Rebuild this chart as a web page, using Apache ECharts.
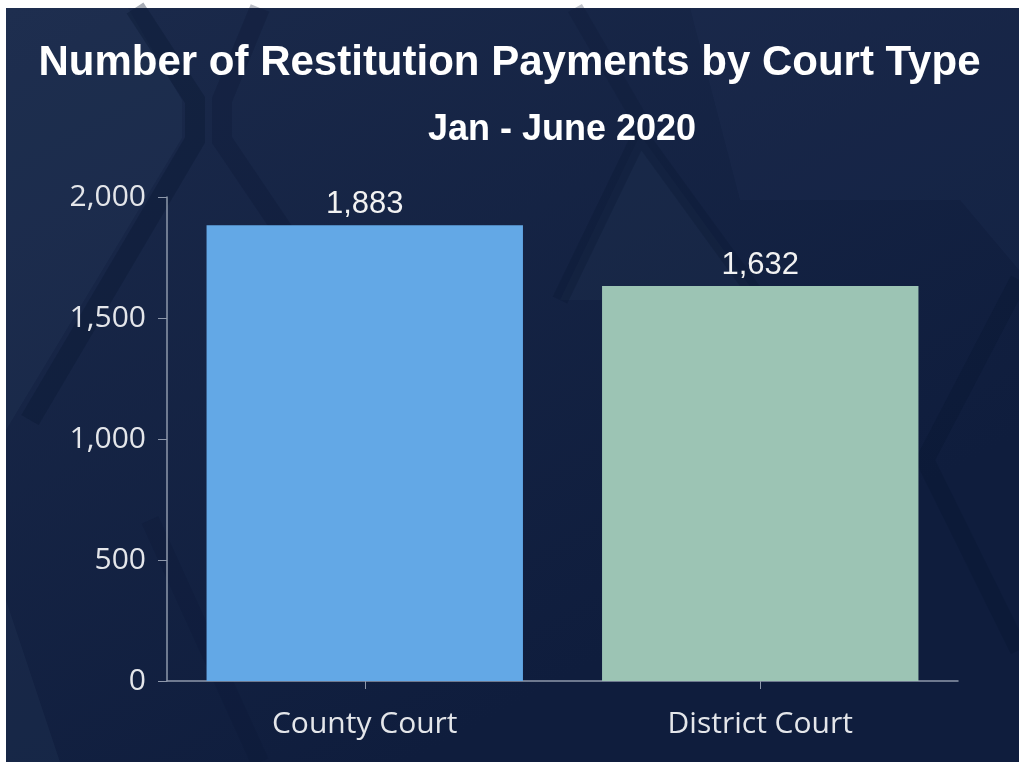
<!DOCTYPE html>
<html>
<head>
<meta charset="utf-8">
<script src="https://cdn.jsdelivr.net/npm/echarts@6/dist/echarts.min.js"></script>
<style>
  html, body { margin: 0; padding: 0; background: #fff; }
  #main { width: 1019px; height: 762px; }
</style>
</head>
<body>
<div id="main"></div>
<script>
// data
var courts = ['County Court', 'District Court'];
var payments = [1883, 1632];
var barColors = ['#63a8e6', '#9cc4b4'];
var yTicks = [0, 500, 1000, 1500, 2000];

var chart = echarts.init(document.getElementById('main'));

// background decoration (diamond lattice look)
var bg = [
  { type: 'rect', shape: { x: 6, y: 8, width: 1013, height: 754 },
    style: { fill: new echarts.graphic.LinearGradient(0, 0, 0.4, 1, [
      { offset: 0, color: '#1b2a4b' }, { offset: 1, color: '#0f1d3d' }]) } },
  { type: 'polygon', shape: { points: [[6, 8], [128, 8], [182, 100], [182, 138], [6, 430]] },
    style: { fill: 'rgba(40,58,92,0.25)' } },
  { type: 'polygon', shape: { points: [[6, 600], [60, 762], [6, 762]] },
    style: { fill: 'rgba(40,58,92,0.25)' } },
  { type: 'polygon', shape: { points: [[640, 135], [760, 300], [560, 300]] },
    style: { fill: 'rgba(40,58,92,0.2)' } },
  { type: 'polygon', shape: { points: [[690, 8], [1019, 8], [1019, 270], [960, 200], [740, 200]] },
    style: { fill: 'rgba(40,58,92,0.18)' } },
  { type: 'polyline', shape: { points: [[135, 8], [195, 100], [195, 140], [30, 420]] },
    style: { stroke: 'rgba(10,22,50,0.35)', lineWidth: 20, fill: null } },
  { type: 'polyline', shape: { points: [[260, 8], [222, 100], [222, 140], [330, 300]] },
    style: { stroke: 'rgba(10,22,50,0.28)', lineWidth: 20, fill: null } },
  { type: 'polyline', shape: { points: [[560, 300], [640, 135], [760, 300]] },
    style: { stroke: 'rgba(10,22,50,0.3)', lineWidth: 16, fill: null } },
  { type: 'polyline', shape: { points: [[575, 8], [640, 120]] },
    style: { stroke: 'rgba(10,22,50,0.25)', lineWidth: 16, fill: null } },
  { type: 'polyline', shape: { points: [[1019, 280], [925, 460], [1019, 650]] },
    style: { stroke: 'rgba(10,22,50,0.35)', lineWidth: 18, fill: null } },
  { type: 'polyline', shape: { points: [[150, 520], [260, 762]] },
    style: { stroke: 'rgba(10,22,50,0.2)', lineWidth: 18, fill: null } }
];
bg.forEach(function (g) { g.z = -10; g.silent = true; });

chart.setOption({
  backgroundColor: '#ffffff',
  animation: false,
  graphic: bg,
  title: [{
    text: 'Number of Restitution Payments by Court Type',
    left: 'center',
    top: 37,
    textStyle: {
      color: '#ffffff', fontFamily: 'Liberation Sans', fontWeight: 'bold', fontSize: 42
    }
  }, {
    text: 'Jan - June 2020',
    left: 423,
    top: 107,
    textStyle: {
      color: '#ffffff', fontFamily: 'Liberation Sans', fontWeight: 'bold', fontSize: 36
    }
  }],
  grid: { left: 167, right: 61, top: 197, bottom: 81, containLabel: false },
  xAxis: {
    type: 'category',
    data: courts,
    axisLine: { lineStyle: { color: '#8e98ab', width: 1.5 } },
    axisTick: { show: true, alignWithLabel: true, length: 8, lineStyle: { color: '#8e98ab' } },
    axisLabel: {
      color: '#e4e6ea', fontFamily: 'Open Sans', fontSize: 30, margin: 28
    }
  },
  yAxis: {
    type: 'value',
    min: yTicks[0],
    max: yTicks[yTicks.length - 1],
    interval: yTicks[1] - yTicks[0],
    axisLine: { show: true, lineStyle: { color: '#8e98ab', width: 1.5 } },
    axisTick: { show: true, length: 9, lineStyle: { color: '#8e98ab' } },
    splitLine: { show: false },
    axisLabel: {
      color: '#e4e6ea', fontFamily: 'Open Sans', fontSize: 30, margin: 21,
      formatter: function (v) { return v.toLocaleString('en-US'); }
    }
  },
  series: [{
    type: 'bar',
    barWidth: '80%',
    data: payments.map(function (v, i) {
      return { value: v, itemStyle: { color: barColors[i] } };
    }),
    label: {
      show: true, position: 'top', distance: 5,
      color: '#f2f2f2', fontFamily: 'Liberation Sans', fontSize: 31,
      formatter: function (p) { return p.value.toLocaleString('en-US'); }
    }
  }]
});
</script>
</body>
</html>
